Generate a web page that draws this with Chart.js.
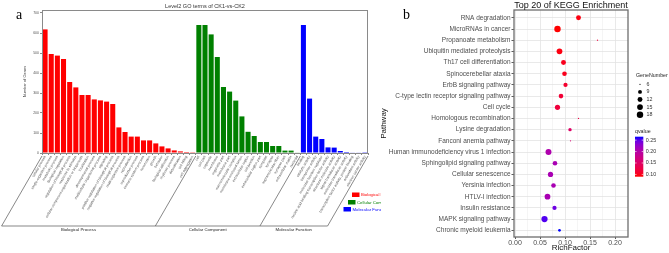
<!DOCTYPE html>
<html>
<head>
<meta charset="utf-8">
<script src="https://cdn.jsdelivr.net/npm/chart.js@4"></script>
<style>
  html, body { margin:0; padding:0; background:#fff; }
  body { width:669px; height:253px; position:relative; overflow:hidden; }
  canvas { position:absolute; top:0; }
  #ca { left:0; }
  #cb { left:379px; }
</style>
</head>
<body>
<canvas id="ca" width="381" height="253"></canvas>
<canvas id="cb" width="290" height="253"></canvas>
<script>
// ---------- Panel a data: Level2 GO terms ----------
const bpTerms = ["cellular process","single-organism process","metabolic process","biological regulation","regulation of biological process","response to stimulus","cellular component organization or biogenesis","localization","developmental process","multicellular organismal process","signaling","positive regulation of biological process","negative regulation of biological process","multi-organism process","reproduction","reproductive process","immune system process","locomotion","growth","behavior","biological adhesion","rhythmic process","detoxification","cell killing","cell aggregation"];
const bpCounts = [618,495,487,470,355,328,290,290,268,263,257,245,128,105,82,82,63,63,48,33,23,13,8,5,1];
const ccTerms = ["cell","cell part","organelle","membrane","organelle part","membrane part","macromolecular complex","membrane-enclosed lumen","extracellular region","cell junction","extracellular region part","symplast","synapse","supramolecular fiber","synapse part","extracellular matrix","nucleoid"];
const ccCounts = [640,640,593,480,330,307,262,183,106,85,55,55,35,35,12,12,2];
const mfTerms = ["binding","catalytic activity","transporter activity","molecular function regulator","nucleic acid binding transcription factor activity","structural molecule activity","signal transducer activity","molecular transducer activity","transcription factor activity, protein binding","antioxidant activity","electron carrier activity"];
const mfCounts = [640,272,82,70,28,27,10,5,3,2,1];
const goGroups = ["Biological Process","Cellular Component","Molecular Function"];
const goYTicks = [0,100,200,300,400,500,600,700];

// ---------- Panel b data: KEGG top 20 ----------
const pathways = ["RNA degradation","MicroRNAs in cancer","Propanoate metabolism","Ubiquitin mediated proteolysis","Th17 cell differentiation","Spinocerebellar ataxia","ErbB signaling pathway","C-type lectin receptor signaling pathway","Cell cycle","Homologous recombination","Lysine degradation","Fanconi anemia pathway","Human immunodeficiency virus 1 infection","Sphingolipid signaling pathway","Cellular senescence","Yersinia infection","HTLV-I infection","Insulin resistance","MAPK signaling pathway","Chronic myeloid leukemia"];
const richFactor = [0.127,0.085,0.165,0.089,0.097,0.099,0.101,0.092,0.085,0.127,0.110,0.111,0.067,0.080,0.071,0.077,0.065,0.079,0.059,0.089];
const geneNumber = [12,18,6,15,12,11,10,11,13,6,8,6,16,11,13,11,15,10,17,7];
const qvalue = [0.095,0.09,0.12,0.095,0.10,0.10,0.11,0.115,0.12,0.125,0.15,0.16,0.205,0.21,0.21,0.21,0.21,0.245,0.255,0.265];
const richTicks = [0.00,0.05,0.10,0.15,0.20];
const sizeBreaks = [6,9,12,15,18];
const qBreaks = [0.25,0.20,0.15,0.10];

Chart.defaults.font.family = "'Liberation Sans', Arial, sans-serif";

// ===== Panel a =====
const allTerms = [...bpTerms, ...ccTerms, ...mfTerms];
const allCounts = [...bpCounts, ...ccCounts, ...mfCounts];
const groupColors = ['#FF0000', '#008000', '#0000FF'];
const allColors = [...bpTerms.map(()=>groupColors[0]), ...ccTerms.map(()=>groupColors[1]), ...mfTerms.map(()=>groupColors[2])];
const groupStarts = [0, bpTerms.length, bpTerms.length + ccTerms.length, allTerms.length];

const panelAPlugin = {
  id: 'panelA',
  afterDraw(chart) {
    const {ctx, chartArea: ca, scales: {x}} = chart;
    ctx.save();
    // frame
    ctx.strokeStyle = '#8a8a8a'; ctx.lineWidth = 1;
    ctx.strokeRect(ca.left + 0.5, ca.top + 0.5, ca.right - ca.left - 1, ca.bottom - ca.top);
    // title
    ctx.fillStyle = '#333';
    ctx.font = "5.5px 'Liberation Sans', Arial, sans-serif";
    ctx.textAlign = 'center'; ctx.textBaseline = 'middle';
    ctx.fillText('Level2 GO terms of CK1-vs-CK2', (ca.left + ca.right) / 2, 6);
    // panel letter
    ctx.fillStyle = '#000';
    ctx.font = "14px 'Liberation Serif', 'Times New Roman', serif";
    ctx.textAlign = 'left'; ctx.textBaseline = 'alphabetic';
    ctx.fillText('a', 16, 19.3);
    // group brackets
    const half = (x.getPixelForValue(1) - x.getPixelForValue(0)) / 2;
    const bx = groupStarts.map(i => i < allTerms.length ? x.getPixelForValue(i) - half : x.getPixelForValue(allTerms.length - 1) + half);
    const y0 = ca.bottom + 3, y1 = 226;
    const dx = (y1 - y0) / Math.tan(Math.PI / 3);
    ctx.strokeStyle = '#555'; ctx.lineWidth = 0.7;
    ctx.beginPath();
    bx.forEach(b => { ctx.moveTo(b, y0); ctx.lineTo(b - dx, y1); });
    ctx.moveTo(bx[0] - dx, y1); ctx.lineTo(bx[bx.length - 1] - dx, y1);
    ctx.stroke();
    ctx.fillStyle = '#222';
    ctx.font = "4.3px 'Liberation Sans', Arial, sans-serif";
    ctx.textAlign = 'center'; ctx.textBaseline = 'middle';
    goGroups.forEach((g, i) => ctx.fillText(g, (bx[i] + bx[i + 1]) / 2 - dx, 230));
    // legend
    const leg = [[352, 192.5], [348, 200], [343.5, 207]];
    ctx.font = "4.3px 'Liberation Sans', Arial, sans-serif";
    ctx.textAlign = 'left';
    goGroups.forEach((g, i) => {
      ctx.fillStyle = groupColors[i];
      ctx.fillRect(leg[i][0], leg[i][1], 7.5, 4.5);
      ctx.fillText(g, leg[i][0] + 9, leg[i][1] + 2.4);
    });
    ctx.restore();
  }
};

new Chart(document.getElementById('ca'), {
  type: 'bar',
  data: {
    labels: allTerms,
    datasets: [{ data: allCounts, backgroundColor: allColors, barPercentage: 0.82, categoryPercentage: 1, borderWidth: 0 }]
  },
  options: {
    responsive: false, animation: false, devicePixelRatio: 1,
    layout: { padding: { left: 0, right: 13, top: 10, bottom: 0 } },
    plugins: { legend: { display: false }, tooltip: { enabled: false } },
    scales: {
      x: {
        grid: { display: true, drawOnChartArea: false, tickLength: 2, color: '#8a8a8a' },
        border: { display: false },
        ticks: { autoSkip: false, maxRotation: 60, minRotation: 60, padding: 0, color: '#555', font: { size: 3.5 } },
        afterFit(s) { s.height = 100; }
      },
      y: {
        min: 0, max: 715,
        afterBuildTicks(s) { s.ticks = goYTicks.map(v => ({ value: v })); },
        ticks: { color: '#555', font: { size: 3.5 }, padding: 1 },
        grid: { drawOnChartArea: false, tickLength: 2, color: '#8a8a8a' },
        border: { display: false },
        title: { display: true, text: 'Number of Genes', color: '#333', font: { size: 4 }, padding: { top: 22, bottom: 0 } },
        afterFit(s) { s.width = 42; }
      }
    }
  },
  plugins: [panelAPlugin]
});

// ===== Panel b =====
function toLin(c) { c /= 255; return c <= 0.04045 ? c / 12.92 : Math.pow((c + 0.055) / 1.055, 2.4); }
function toSrgb(c) { c = c <= 0.0031308 ? 12.92 * c : 1.055 * Math.pow(c, 1 / 2.4) - 0.055; return Math.round(Math.max(0, Math.min(1, c)) * 255); }
function rgb2lab([r, g, b]) {
  r = toLin(r); g = toLin(g); b = toLin(b);
  let X = (0.4124564 * r + 0.3575761 * g + 0.1804375 * b) / 0.95047;
  let Y = (0.2126729 * r + 0.7151522 * g + 0.0721750 * b);
  let Z = (0.0193339 * r + 0.1191920 * g + 0.9503041 * b) / 1.08883;
  const f = t => t > 216 / 24389 ? Math.cbrt(t) : (24389 / 27 * t + 16) / 116;
  const fx = f(X), fy = f(Y), fz = f(Z);
  return [116 * fy - 16, 500 * (fx - fy), 200 * (fy - fz)];
}
function lab2rgb([L, a, b]) {
  const fy = (L + 16) / 116, fx = fy + a / 500, fz = fy - b / 200;
  const fi = f => { const f3 = f * f * f; return f3 > 216 / 24389 ? f3 : (116 * f - 16) / (24389 / 27); };
  const X = fi(fx) * 0.95047, Y = fi(fy), Z = fi(fz) * 1.08883;
  const r = 3.2404542 * X - 1.5371385 * Y - 0.4985314 * Z;
  const g = -0.9692660 * X + 1.8760108 * Y + 0.0415560 * Z;
  const bb = 0.0556434 * X - 0.2040259 * Y + 1.0572252 * Z;
  return [toSrgb(r), toSrgb(g), toSrgb(bb)];
}
const labLow = rgb2lab([255, 0, 0]), labHigh = rgb2lab([0, 0, 255]);
const qMin = Math.min(...qvalue), qMax = Math.max(...qvalue);
function qColor(q) {
  const t = Math.max(0, Math.min(1, (q - qMin) / (qMax - qMin)));
  const c = lab2rgb(labLow.map((v, i) => v + (labHigh[i] - v) * t));
  return `rgb(${c[0]},${c[1]},${c[2]})`;
}
const gMin = Math.min(...geneNumber), gMax = Math.max(...geneNumber);
function radius(n) {
  const t = Math.max(0, (n - gMin) / (gMax - gMin));
  return 0.52 * (1 + 5 * Math.sqrt(t)) + 0.1;
}
const isMajor = v => Math.abs(Math.round(v / 0.05) * 0.05 - v) < 1e-6;

const panelBPlugin = {
  id: 'panelB',
  beforeDatasetsDraw(chart) {
    const {ctx, chartArea: ca} = chart;
    ctx.save();
    ctx.restore();
  },
  afterDraw(chart) {
    const {ctx, chartArea: ca} = chart;
    ctx.save();
    // frame
    ctx.strokeStyle = '#6e6e6e'; ctx.lineWidth = 1.3;
    ctx.strokeRect(ca.left, ca.top, ca.right - ca.left, ca.bottom - ca.top);
    // title
    ctx.fillStyle = '#111';
    ctx.font = "9px 'Liberation Sans', Arial, sans-serif";
    ctx.textAlign = 'center'; ctx.textBaseline = 'alphabetic';
    ctx.fillText('Top 20 of KEGG Enrichment', (ca.left + ca.right) / 2, 7.8);
    // panel letter
    ctx.fillStyle = '#000';
    ctx.font = "14px 'Liberation Serif', 'Times New Roman', serif";
    ctx.textAlign = 'left';
    ctx.fillText('b', 24, 19);
    // size legend
    const lx = ca.right + 8;
    ctx.fillStyle = '#222';
    ctx.font = "5.3px 'Liberation Sans', Arial, sans-serif";
    ctx.textBaseline = 'middle';
    ctx.fillText('GeneNumber', lx, 75.5);
    sizeBreaks.forEach((n, i) => {
      const y = 84.3 + i * 7.6;
      ctx.fillStyle = '#000';
      ctx.beginPath(); ctx.arc(lx + 4, y, radius(n), 0, Math.PI * 2); ctx.fill();
      ctx.fillStyle = '#333';
      ctx.fillText(String(n), lx + 10.5, y);
    });
    // colour bar
    const barTop = 136.7, barBot = 176.7, bx0 = lx - 1, bw = 8.3;
    ctx.fillStyle = '#222';
    ctx.fillText('qvalue', bx0, 132);
    const grad = ctx.createLinearGradient(0, barBot, 0, barTop);
    for (let k = 0; k <= 10; k++) {
      grad.addColorStop(k / 10, qColor(qMin + (qMax - qMin) * k / 10));
    }
    ctx.fillStyle = grad;
    ctx.fillRect(bx0, barTop, bw, barBot - barTop);
    const qy = q => barBot - (q - qMin) / (qMax - qMin) * (barBot - barTop);
    ctx.strokeStyle = '#fff'; ctx.lineWidth = 0.6;
    qBreaks.forEach(q => {
      const y = qy(q);
      ctx.beginPath();
      ctx.moveTo(bx0, y); ctx.lineTo(bx0 + 1.6, y);
      ctx.moveTo(bx0 + bw - 1.6, y); ctx.lineTo(bx0 + bw, y);
      ctx.stroke();
      ctx.fillStyle = '#333';
      ctx.fillText(q.toFixed(2), bx0 + bw + 2.5, y);
    });
    ctx.restore();
  }
};

new Chart(document.getElementById('cb'), {
  type: 'scatter',
  data: {
    datasets: [{
      data: pathways.map((p, i) => ({ x: richFactor[i], y: i })),
      pointRadius: c => radius(geneNumber[c.dataIndex]),
      pointHoverRadius: c => radius(geneNumber[c.dataIndex]),
      pointBackgroundColor: c => qColor(qvalue[c.dataIndex]),
      pointBorderWidth: 0
    }]
  },
  options: {
    responsive: false, animation: false, devicePixelRatio: 1,
    layout: { padding: { left: 0, right: 41, top: 10, bottom: 0 } },
    plugins: { legend: { display: false }, tooltip: { enabled: false } },
    scales: {
      x: {
        type: 'linear', min: -0.002, max: 0.226,
        afterBuildTicks(s) {
          const t = [];
          for (let k = 0; k <= 8; k++) t.push({ value: Math.round(k * 0.025 * 1000) / 1000 });
          s.ticks = t;
        },
        ticks: { autoSkip: false, maxRotation: 0, padding: 0, color: '#4d4d4d', font: { size: 7 },
                 callback: v => richTicks.some(r => Math.abs(r - v) < 1e-6) ? v.toFixed(2) : '' },
        grid: { color: c => isMajor(c.tick.value) ? '#e3e3e3' : '#f2f2f2',
                tickColor: c => isMajor(c.tick.value) ? '#333' : 'rgba(0,0,0,0)', tickLength: 2, lineWidth: 0.8 },
        border: { display: false },
        title: { display: true, text: 'RichFactor', color: '#111', font: { size: 8 }, padding: 0 },
        afterFit(s) { s.height = 16; }
      },
      y: {
        type: 'linear', reverse: true, min: -0.7, max: 19.6,
        afterBuildTicks(s) { s.ticks = pathways.map((p, i) => ({ value: i })); },
        ticks: { autoSkip: false, padding: 1, color: '#4d4d4d', font: { size: 6.5 }, callback: v => pathways[v] ?? '' },
        grid: { color: '#e3e3e3', tickColor: '#333', tickLength: 2.5, lineWidth: 0.8 },
        border: { display: false },
        title: { display: true, text: 'Pathway', color: '#111', font: { size: 8 }, padding: 0 },
        afterFit(s) { s.width = 135; }
      }
    }
  },
  plugins: [panelBPlugin]
});
</script>
</body>
</html>
